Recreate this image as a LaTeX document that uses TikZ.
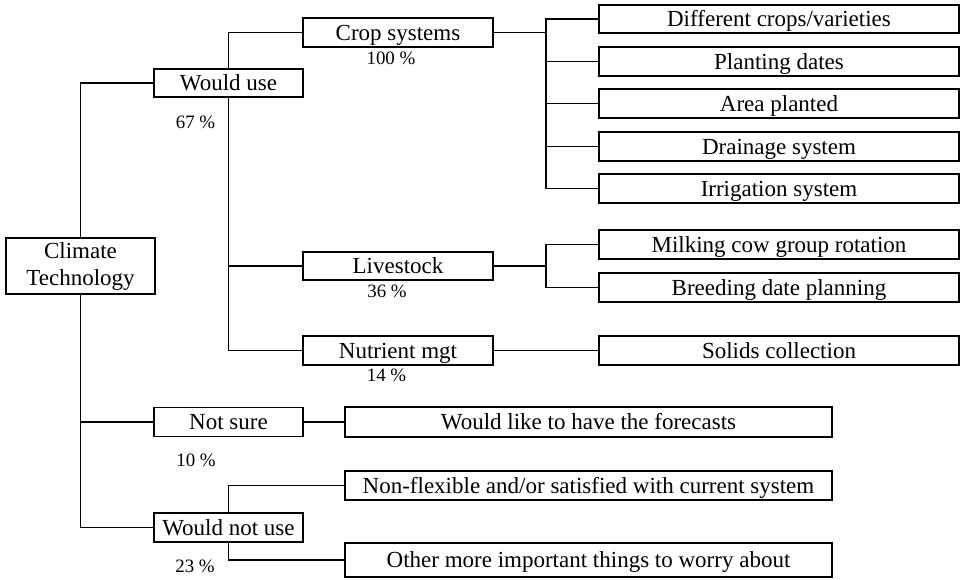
\documentclass[tikz,border=0pt]{standalone}
\usepackage{fontspec}
\setmainfont{Liberation Serif}
\begin{document}
\begin{tikzpicture}[x=1pt,y=-1pt,
  box/.style={draw, line width=1.9pt, inner sep=0pt, text height=15.2pt, text depth=0pt,
    font=\fontsize{23}{26}\selectfont},
  ctbox/.style={draw, line width=1.9pt, inner sep=0pt, align=center,
    font=\fontsize{23}{27}\selectfont},
  wbox/.style={box, minimum width=149pt},
  mbox/.style={box, minimum width=190pt},
  rbox/.style={box, minimum width=360pt, minimum height=28.5pt},
  lbox/.style={box, minimum width=487pt},
  pct/.style={inner sep=0pt, anchor=base, font=\fontsize{18.9}{22}\selectfont},
  conn/.style={line width=1.9pt}]
\useasboundingbox (0,0) rectangle (963,579);

% main nodes
\node[ctbox, minimum width=149pt, minimum height=56pt] (ct) at (80.5,266) {Climate\\Technology};
\node[wbox, minimum height=28pt] (wu) at (228.5,83) {Would use};
\node[wbox, minimum height=29pt] (ns) at (228.5,422) {Not sure};
\node[wbox, minimum height=29pt] (wnu) at (228.5,527.5) {Would not use};

\node[mbox, minimum height=29pt] (cs) at (398,32.5) {Crop systems};
\node[mbox, minimum height=28pt] (ls) at (398,266) {Livestock};
\node[mbox, minimum height=28.5pt] (nm) at (398,350.5) {Nutrient mgt};

\node[rbox] (r1) at (779,19) {Different crops/varieties};
\node[rbox] (r2) at (779,61.5) {Planting dates};
\node[rbox] (r3) at (779,103.5) {Area planted};
\node[rbox] (r4) at (779,146.5) {Drainage system};
\node[rbox] (r5) at (779,188.5) {Irrigation system};
\node[rbox] (r6) at (779,244.5) {Milking cow group rotation};
\node[rbox] (r7) at (779,287.5) {Breeding date planning};
\node[rbox] (r8) at (779,350.5) {Solids collection};

\node[lbox, minimum height=30pt] (fc) at (588.5,422) {Would like to have the forecasts};
\node[lbox, minimum height=29pt] (nf) at (588.5,485.5) {Non-flexible and/or satisfied with current system};
\node[lbox, minimum height=34pt] (om) at (588.5,560) {Other more important things to worry about};

% percentages
\node[pct] (p67) at (195.5,128) {67 \%};
\node[pct] (p100) at (391,64.5) {100 \%};
\node[pct] (p36) at (387,297.5) {36 \%};
\node[pct] (p14) at (386.5,381.5) {14 \%};
\node[pct] (p10) at (196,466.5) {10 \%};
\node[pct] (p23) at (195,572.5) {23 \%};

% connectors
\draw[conn] (ct.north) |- (wu.west);
\draw[conn] (ct.south) |- (wnu.west);
\draw[conn] (ct.south |- ns.west) -- (ns.west);

\draw[conn] (wu.north) |- (cs.west);
\draw[conn] (wu.south) |- (nm.west);
\draw[conn] (wu.south |- ls.west) -- (ls.west);

\coordinate (cj) at (546,32.5);
\draw[conn] (cs.east) -- (cj);
\foreach \r in {r1,r2,r3,r4,r5} \draw[conn] (cj) |- (\r.west);

\coordinate (lj) at (546,266);
\draw[conn] (ls.east) -- (lj);
\foreach \r in {r6,r7} \draw[conn] (lj) |- (\r.west);

\draw[conn] (nm.east) -- (r8.west);
\draw[conn] (ns.east) -- (fc.west);

\draw[conn] (wnu.north) |- (nf.west);
\draw[conn] (wnu.south) |- (om.west);
\end{tikzpicture}
\end{document}
